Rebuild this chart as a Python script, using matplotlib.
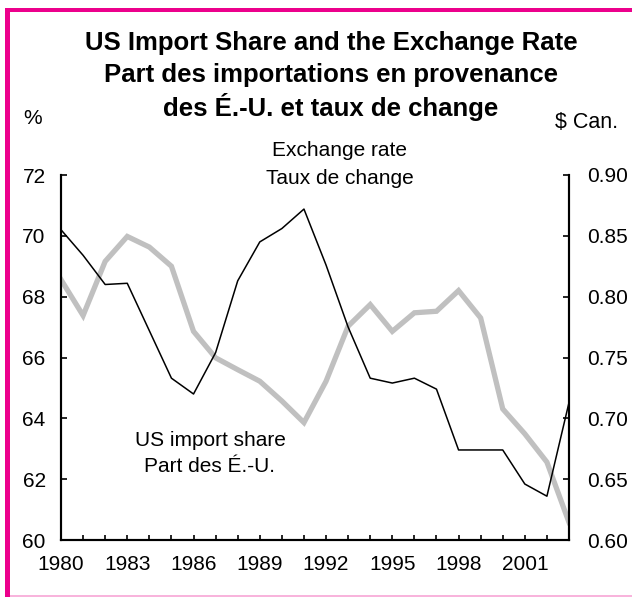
import matplotlib.pyplot as plt
from matplotlib.patches import Rectangle

# data
years = list(range(1980, 2004))
import_share = [68.56, 67.38, 69.16, 69.98, 69.63, 69.0, 66.86, 65.99, 65.6, 65.22,
                64.57, 63.86, 65.22, 67.03, 67.74, 66.86, 67.47, 67.52, 68.2, 67.3,
                64.31, 63.49, 62.56, 60.58]
exchange_rate = [0.855, 0.834, 0.810, 0.811, 0.772, 0.733, 0.720, 0.754, 0.813, 0.845,
                 0.856, 0.872, 0.826, 0.775, 0.733, 0.729, 0.733, 0.724, 0.674, 0.674,
                 0.674, 0.646, 0.636, 0.713]
year_labels = [1980, 1983, 1986, 1989, 1992, 1995, 1998, 2001]
left_ticks = [60, 62, 64, 66, 68, 70, 72]
right_ticks = [0.60, 0.65, 0.70, 0.75, 0.80, 0.85, 0.90]

plt.rcParams['font.family'] = ['Liberation Sans', 'DejaVu Sans']

W, H = 632, 597
fig = plt.figure(figsize=(W / 100, H / 100), dpi=100)
ax = fig.add_axes([61 / W, 1 - 540 / H, (569 - 61) / W, (540 - 175) / H])
ax2 = ax.twinx()

# grey import share on left axis, black exchange rate on right axis
ax.plot(years, import_share, color='#c0c0c0', lw=3.8, solid_joinstyle='miter')
ax2.plot(years, exchange_rate, color='black', lw=1.1)

ax.set_xlim(1980, 2003)
ax.set_ylim(60, 72)
ax2.set_ylim(0.60, 0.90)

ax.set_xticks(year_labels)
ax.set_xticklabels([str(y) for y in year_labels])
ax.set_xticks(years, minor=True)
ax.set_yticks(left_ticks)
ax.set_yticklabels([str(v) for v in left_ticks])
ax2.set_yticks(right_ticks)
ax2.set_yticklabels([f'{v:.2f}' for v in right_ticks])

for a in (ax, ax2):
    a.spines['top'].set_visible(False)
    for s in a.spines.values():
        s.set_linewidth(1.5)
ax.tick_params(axis='x', which='both', direction='in', length=3.5, width=1.2,
               labelsize=15, pad=11)
ax.tick_params(axis='y', direction='in', length=4, width=1.2, labelsize=15, pad=11)
ax2.tick_params(axis='y', direction='in', length=4, width=1.2, labelsize=15, pad=13)

# titles and labels
title_lines = ['US Import Share and the Exchange Rate',
               'Part des importations en provenance',
               'des É.-U. et taux de change']
for line, ypix in zip(title_lines, [43, 75, 107]):
    fig.text(331 / W, 1 - ypix / H, line, ha='center', va='center',
             fontsize=18.5, fontweight='bold')
fig.text(33 / W, 1 - 118 / H, '%', ha='center', va='center', fontsize=15)
fig.text(587 / W, 1 - 123 / H, '$ Can.', ha='center', va='center', fontsize=15.5)
fig.text(340 / W, 1 - 150 / H, 'Exchange rate', ha='center', va='center', fontsize=15)
fig.text(340 / W, 1 - 178 / H, 'Taux de change', ha='center', va='center', fontsize=15)
fig.text(210 / W, 1 - 440 / H, 'US import share', ha='center', va='center', fontsize=15)
fig.text(210 / W, 1 - 467 / H, 'Part des É.-U.', ha='center', va='center', fontsize=15)

# magenta frame
fig.add_artist(Rectangle((5 / W, 0), 5 / W, (H - 8) / H, transform=fig.transFigure,
                         color='#ec008c', lw=0))
fig.add_artist(Rectangle((5 / W, 1 - 12 / H), 1, 4 / H, transform=fig.transFigure,
                         color='#ec008c', lw=0))
fig.add_artist(Rectangle((10 / W, 0), 1, 2 / H, transform=fig.transFigure,
                         color='#f8b4dc', lw=0))

fig.savefig('out.png', dpi=100)
